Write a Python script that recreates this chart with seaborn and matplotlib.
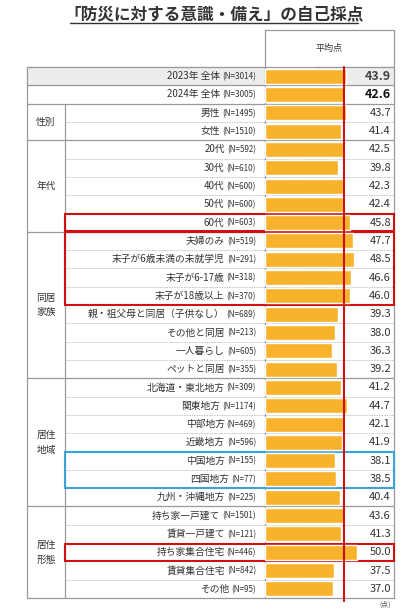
import matplotlib
matplotlib.use("Agg")
import matplotlib.pyplot as plt
import seaborn as sns
import pandas as pd
from matplotlib.patches import Rectangle

sns.set_theme(style="white")
plt.rcParams['font.family'] = ['Noto Sans CJK JP', 'DejaVu Sans']

labels = ["2023年 全体", "2024年 全体", "男性", "女性", "20代", "30代", "40代", "50代", "60代",
          "夫婦のみ", "末子が6歳未満の未就学児", "末子が6-17歳", "末子が18歳以上",
          "親・祖父母と同居（子供なし）", "その他と同居", "一人暮らし", "ペットと同居",
          "北海道・東北地方", "関東地方", "中部地方", "近畿地方", "中国地方", "四国地方", "九州・沖縄地方",
          "持ち家一戸建て", "賃貸一戸建て", "持ち家集合住宅", "賃貸集合住宅", "その他"]
ns = [3014, 3005, 1495, 1510, 592, 610, 600, 600, 603, 519, 291, 318, 370, 689, 213, 605, 355,
      309, 1174, 469, 596, 155, 77, 225, 1501, 121, 446, 842, 95]
values = [43.9, 42.6, 43.7, 41.4, 42.5, 39.8, 42.3, 42.4, 45.8, 47.7, 48.5, 46.6, 46.0,
          39.3, 38.0, 36.3, 39.2, 41.2, 44.7, 42.1, 41.9, 38.1, 38.5, 40.4,
          43.6, 41.3, 50.0, 37.5, 37.0]
groups = [("性別", 2, 3), ("年代", 4, 8), ("同居\n家族", 9, 16), ("居住\n地域", 17, 23), ("居住\n形態", 24, 28)]
reference = 42.6

W, H = 405, 613
fig = plt.figure(figsize=(W / 100, H / 100), dpi=100)
base = fig.add_axes([0, 0, 1, 1])
base.set_xlim(0, W); base.set_ylim(H, 0); base.axis("off")

top, rh = 67, (598 - 67) / 29
xl, xg, xb, xr = 27, 65, 265, 394
n = len(labels)

bx = fig.add_axes([xb / W, 1 - 598 / H, (xr - xb) / W, 531 / H])
df = pd.DataFrame({"label": labels, "value": values})
bx.set_facecolor("none")
sns.barplot(data=df, x="value", y="label", orient="h", color="#F9B22C", saturation=1,
            width=0.82, ax=bx, order=labels)
bx.set_xlim(0, (xr - xb) / 1.845)
bx.set_ylim(n - 0.5, -0.5)
bx.axvline(reference, color="#D01010", lw=1.5, ymin=-0.005, ymax=1.0, clip_on=False)
bx.axis("off")

base.add_patch(Rectangle((xl, top), xb - xl, rh, color="#EDEDED", zorder=0))
base.add_patch(Rectangle((xb + 52, top), xr - xb - 52, rh, color="#EDEDED", zorder=0))

gc = "#999999"
starts = {g[1] for g in groups}
for i in range(n + 1):
    y = top + i * rh
    if i in (0, 1, 2, n) or i in starts:
        base.plot([xl, xr], [y, y], color=gc, lw=0.9)
    else:
        base.plot([xg, xr], [y, y], color="#AAAAAA", lw=0.6, ls=(0, (1, 1)))
base.plot([xl, xl], [top, 598], color=gc, lw=0.9)
base.plot([xr, xr], [30, 598], color=gc, lw=0.9)
base.plot([xb, xb], [30, 598], color=gc, lw=0.9)
base.plot([xb, xr], [30, 30], color=gc, lw=0.9)
base.plot([xg, xg], [top + 2 * rh, 598], color=gc, lw=0.9)

base.text((xb + xr) / 2, 48, "平均点", ha="center", va="center", fontsize=6.5, color="#333333")

renderer = fig.canvas.get_renderer()
for i, (lab, nn, v) in enumerate(zip(labels, ns, values)):
    yc = top + (i + 0.5) * rh
    t = base.text(256, yc + 0.5, f"(N={nn})", ha="right", va="center", fontsize=5.8, color="#333333")
    ext = t.get_window_extent(renderer)
    base.text(256 - ext.width - 2, yc, lab, ha="right", va="center", fontsize=7, color="#333333")
    if i < 2:
        base.text(391, yc, f"{v:.1f}", ha="right", va="center", fontsize=9, fontweight="bold",
                  color="#444444" if i == 0 else "#111111")
    else:
        base.text(391, yc, f"{v:.1f}", ha="right", va="center", fontsize=8, color="#333333")

for g, a, b in groups:
    yc = top + (a + b + 1) / 2 * rh
    base.text((xl + xg) / 2, yc, g, ha="center", va="center", fontsize=7, color="#333333", linespacing=1.6)

def box(a, b, c):
    base.add_patch(Rectangle((xg, top + a * rh + 0.5), xr - xg, (b - a + 1) * rh - 1, fill=False,
                             ec=c, lw=1.5, zorder=5))
box(8, 8, "#D01010")
box(9, 12, "#D01010")
box(21, 22, "#3BA3D8")
box(26, 26, "#D01010")

base.text(214, 14, "「防災に対する意識・備え」の自己採点", ha="center", va="center", fontsize=12,
          fontweight="bold", color="#333333")
base.plot([70, 358], [23, 23], color="#333333", lw=1)
base.text(391, 605, "(点)", ha="right", va="center", fontsize=5, color="#555555")

fig.savefig("out.png", dpi=100)
